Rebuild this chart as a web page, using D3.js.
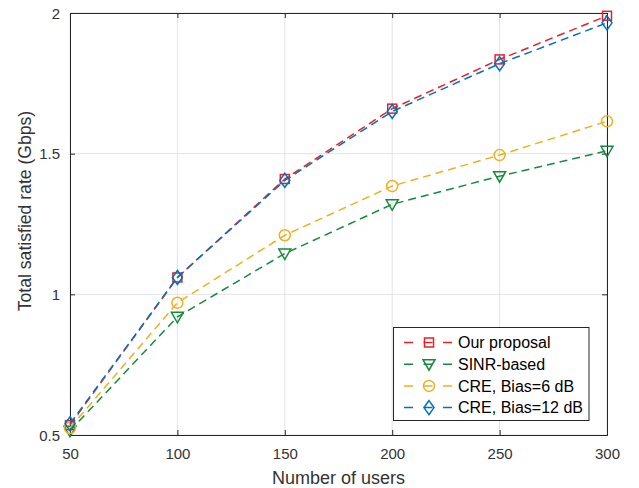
<!DOCTYPE html>
<html><head><meta charset="utf-8">
<script src="https://cdn.jsdelivr.net/npm/d3@7"></script>
<style>body{margin:0;background:#fff}svg{display:block}text{font-family:"Liberation Sans",Arial,sans-serif}</style>
</head><body>
<svg id="c" width="639" height="488"></svg>
<script>
const users = [50, 100, 150, 200, 250, 300];
const ourProposal = [0.535, 1.06, 1.41, 1.66, 1.835, 1.99];
const sinrBased = [0.515, 0.92, 1.145, 1.32, 1.42, 1.51];
const cre6 = [0.525, 0.97, 1.21, 1.385, 1.495, 1.615];
const cre12 = [0.54, 1.06, 1.405, 1.65, 1.82, 1.965];
const xTicks = [50, 100, 150, 200, 250, 300];
const yTicks = [0.5, 1, 1.5, 2];
const seriesNames = ["Our proposal", "SINR-based", "CRE, Bias=6 dB", "CRE, Bias=12 dB"];
const colors = ["#ea2027", "#168a3c", "#edb120", "#0072bd"];
const markers = ["square", "triangle", "circle", "diamond"];
const seriesValues = [ourProposal, sinrBased, cre6, cre12];

const svg = d3.select("#c");
const L = 70, R = 607, T = 13, B = 435;
const x = d3.scaleLinear().domain([50, 300]).range([L, R]);
const y = d3.scaleLinear().domain([0.5, 2]).range([B, T]);
const axisCol = "#262626";
const textCol = "#333333";

// grid
const g = svg.append("g");
g.selectAll(".gx").data(xTicks).join("line").attr("x1", d => x(d)).attr("x2", d => x(d)).attr("y1", T).attr("y2", B).attr("stroke", "#e3e3e3").attr("stroke-width", 1);
g.selectAll(".gy").data(yTicks).join("line").attr("y1", d => y(d)).attr("y2", d => y(d)).attr("x1", L).attr("x2", R).attr("stroke", "#e3e3e3").attr("stroke-width", 1);

// axes
const ax = svg.append("g").attr("transform", `translate(0,${B})`).call(d3.axisBottom(x).tickValues(xTicks).tickSize(-5).tickPadding(13).tickFormat(d3.format("d")));
const axT = svg.append("g").attr("transform", `translate(0,${T})`).call(d3.axisTop(x).tickValues(xTicks).tickSize(-5).tickFormat(""));
const ay = svg.append("g").attr("transform", `translate(${L},0)`).call(d3.axisLeft(y).tickValues(yTicks).tickSize(-5).tickPadding(10).tickFormat(d => d));
const ayR = svg.append("g").attr("transform", `translate(${R},0)`).call(d3.axisRight(y).tickValues(yTicks).tickSize(-5).tickFormat(""));
[ax, axT, ay, ayR].forEach(a => {
  a.select(".domain").attr("stroke", axisCol).attr("stroke-width", 1);
  a.selectAll(".tick line").attr("stroke", axisCol);
  a.selectAll("text").attr("fill", textCol).attr("font-size", 15).attr("font-family", "Liberation Sans, Arial, sans-serif");
});
ay.selectAll("text").attr("dy", "0.35em");

// labels
svg.append("text").attr("x", (L + R) / 2).attr("y", 484).attr("text-anchor", "middle").attr("font-size", 18).attr("fill", textCol).text("Number of users");
svg.append("text").attr("transform", `translate(31,211) rotate(-90)`).attr("text-anchor", "middle").attr("font-size", 17.6).attr("fill", textCol).text("Total satisfied rate (Gbps)");

function drawMarker(sel, type, cx, cy, color) {
  if (type === "square") sel.append("rect").attr("x", cx - 4.5).attr("y", cy - 4.5).attr("width", 9).attr("height", 9);
  else if (type === "circle") sel.append("circle").attr("cx", cx).attr("cy", cy).attr("r", 5.5);
  else if (type === "triangle") sel.append("path").attr("d", `M${cx - 6},${cy - 4.5}L${cx + 6},${cy - 4.5}L${cx},${cy + 6}Z`);
  else if (type === "diamond") sel.append("path").attr("d", `M${cx},${cy - 7}L${cx + 5},${cy}L${cx},${cy + 7}L${cx - 5},${cy}Z`);
  sel.selectAll("*").attr("fill", "none").attr("stroke", color).attr("stroke-width", 1.5);
}

const line = d3.line().x((d, i) => x(users[i])).y(d => y(d));
seriesValues.forEach((vals, k) => {
  svg.append("path").datum(vals).attr("d", line).attr("fill", "none").attr("stroke", colors[k]).attr("stroke-width", 1.5).attr("stroke-dasharray", "8,5");
  vals.forEach((v, i) => {
    const mg = svg.append("g");
    drawMarker(mg, markers[k], x(users[i]), y(v), colors[k]);
  });
});

// legend
const lg = svg.append("g");
lg.append("rect").attr("x", 393.5).attr("y", 327.5).attr("width", 195.5).attr("height", 93).attr("fill", "#fff").attr("stroke", axisCol).attr("stroke-width", 1);
seriesNames.forEach((name, k) => {
  const yy = 342.5 + k * 21.7;
  lg.append("line").attr("x1", 404).attr("x2", 453).attr("y1", yy).attr("y2", yy).attr("stroke", colors[k]).attr("stroke-width", 1.5).attr("stroke-dasharray", "9,10.5");
  const mg = lg.append("g");
  drawMarker(mg, markers[k], 429, yy, colors[k]);
  lg.append("text").attr("x", 458).attr("y", yy).attr("dy", "0.35em").attr("font-size", 16).attr("fill", "#000").text(name);
});
</script>
</body></html>
